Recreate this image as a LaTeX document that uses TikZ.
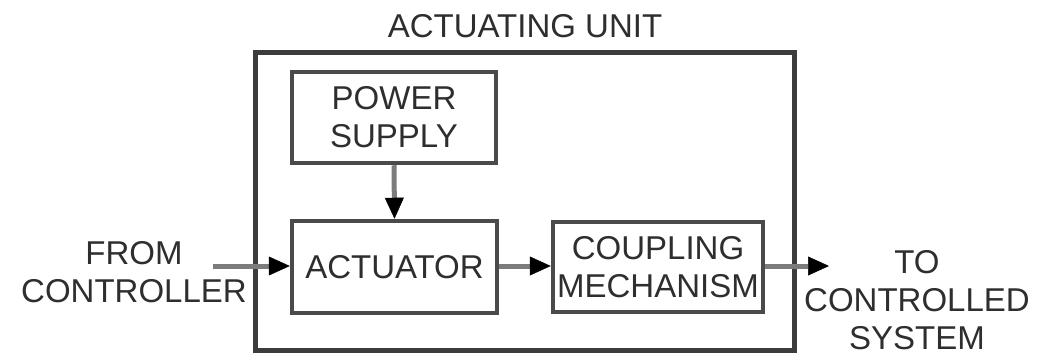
\documentclass[tikz,border=0pt]{standalone}
\usepackage{fontspec}
\setmainfont{Liberation Sans}
\usetikzlibrary{arrows.meta}
\definecolor{frame}{HTML}{3C3C3C}
\definecolor{boxline}{HTML}{4A4A4A}
\definecolor{wire}{HTML}{7C7C7C}
\definecolor{ink}{HTML}{2E2E2E}
\tikzset{
  lbl/.style={text=ink, font=\fontsize{33}{38}\selectfont, align=center, inner sep=0pt},
  unitbox/.style={draw=frame, line width=5pt, rectangle, inner sep=0pt},
  blockbox/.style={draw=boxline, line width=4.5pt, rectangle, inner sep=0pt, lbl},
  flow/.style={draw=wire, line width=5pt,
    -{Triangle[length=21pt,width=19pt,color=black,line width=0.5pt]}}
}
\begin{document}
\begin{tikzpicture}[x=1pt,y=-1pt]
  \useasboundingbox (0,0) rectangle (1048,358);
  % enclosing actuating unit
  \node[unitbox, minimum width=539pt, minimum height=297pt] (unit) at (524.5,201.5) {};
  \node[lbl] (title) at (525,26) {ACTUATING UNIT};
  % inner blocks
  \node[blockbox, minimum width=204pt, minimum height=91pt] (power) at (394,117.5) {POWER\\SUPPLY};
  \node[blockbox, minimum width=205pt, minimum height=92pt] (act) at (394.5,267) {ACTUATOR};
  \node[blockbox, minimum width=210pt, minimum height=90pt] (coup) at (658,267) {COUPLING\\MECHANISM};
  % external labels
  \node[lbl] (from) at (134,272) {FROM\\CONTROLLER};
  \node[lbl] (to) at (917,300) {TO\\CONTROLLED\\SYSTEM};
  \coordinate (in) at (213,266);
  \coordinate (out) at (829,266);
  % signal and power flow
  \draw[flow] (in) -- (in -| act.west);
  \draw[flow] (power.south) -- (act.north);
  \draw[flow] (act.east |- 0,266) -- (coup.west |- 0,266);
  \draw[flow] (coup.east |- 0,266) -- (out);
\end{tikzpicture}
\end{document}
